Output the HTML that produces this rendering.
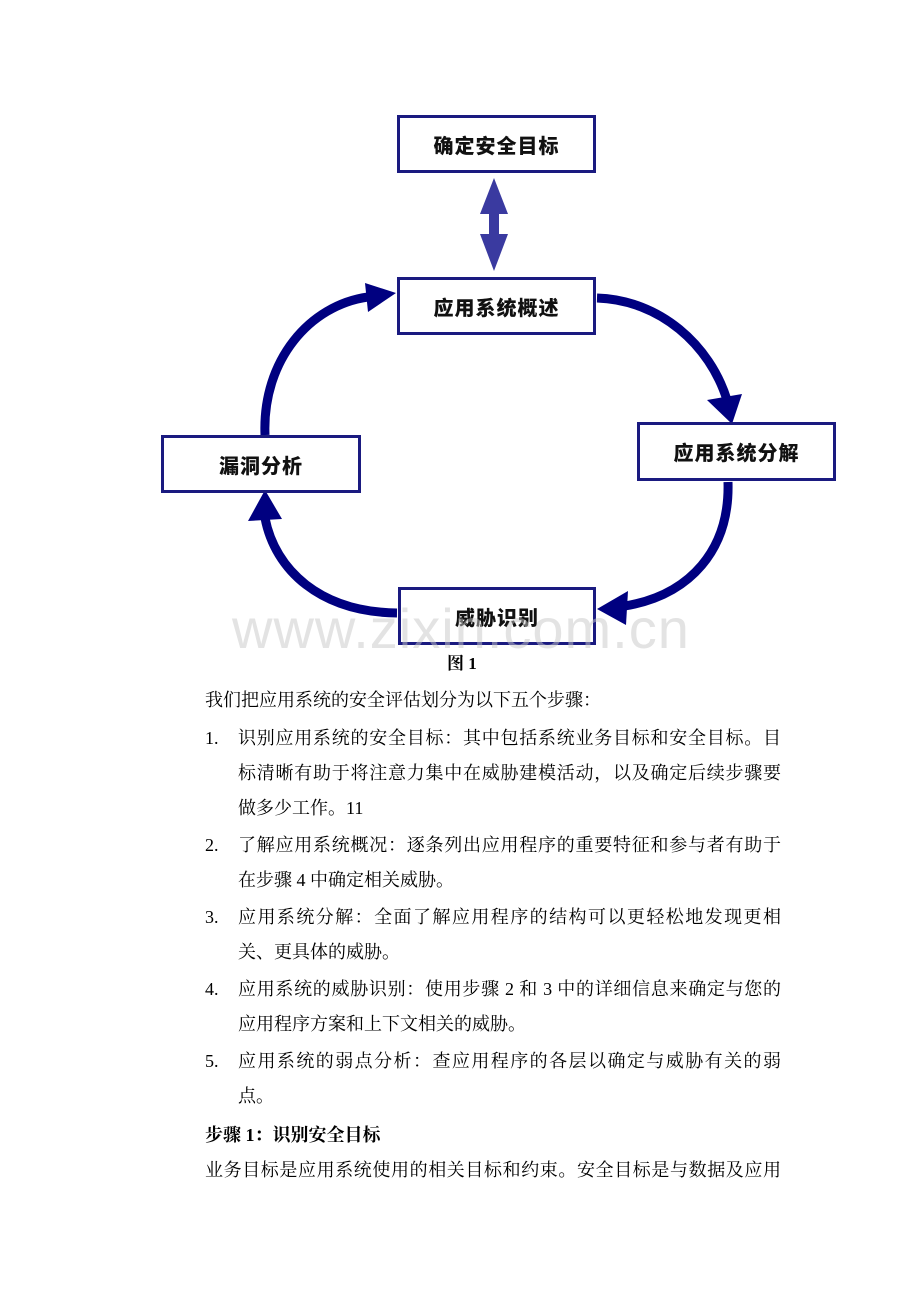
<!DOCTYPE html>
<html><head><meta charset="utf-8"><style>
body{margin:0;background:#fff;width:920px;height:1302px;position:relative;overflow:hidden;font-family:"Liberation Serif","Noto Serif CJK SC",serif;color:#000}
.l{position:absolute;font-size:18px;line-height:22px;white-space:nowrap}
.j{text-align:justify;text-align-last:justify;width:543px}
.n{position:absolute;font-size:18px;line-height:22px;left:205px}
.box{position:absolute;border:3px solid #1a1a80;box-sizing:border-box;background:#fff;font-family:"Noto Sans CJK SC",sans-serif;font-weight:900;font-size:20px;display:flex;align-items:center;justify-content:center;letter-spacing:1px;color:#111}
</style></head><body>
<svg width="920" height="700" style="position:absolute;left:0;top:0">
<g fill="none" stroke="#000080" stroke-width="9">
<path d="M597 298 C660 300 710 345 727 400"/>
<path d="M728 482 C730 550 690 595 625 606"/>
<path d="M397 613 C320 612 275 570 265 518"/>
<path d="M265 435 C262 360 310 305 368 297"/>
</g>
<g fill="#000080">
<polygon points="707,400 742,394 732,424"/>
<polygon points="628,591 626,625 597,609"/>
<polygon points="248,521 282,519 265,490"/>
<polygon points="365,283 368,312 396,293"/>
</g>
<polygon fill="#3a3aa0" points="494,178 480,214 489,214 489,234 480,234 494,271 508,234 499,234 499,214 508,214" />
</svg>
<div class="box" style="left:397px;top:115px;width:199px;height:58px">确定安全目标</div>
<div class="box" style="left:397px;top:277px;width:199px;height:58px">应用系统概述</div>
<div class="box" style="left:637px;top:422px;width:199px;height:59px">应用系统分解</div>
<div class="box" style="left:161px;top:435px;width:200px;height:58px">漏洞分析</div>
<div class="box" style="left:398px;top:587px;width:198px;height:58px">威胁识别</div>
<div style="position:absolute;left:232px;top:596px;font-family:'Liberation Sans',sans-serif;font-size:56px;color:rgba(200,200,200,0.5);letter-spacing:1px">www.zixin.com.cn</div>
<div class="l" style="left:447px;top:653px;font-weight:bold;font-size:17px">图 1</div>
<div class="l" style="left:205px;top:689px">我们把应用系统的安全评估划分为以下五个步骤：</div>
<div class="n" style="top:727px">1.</div><div class="l j" style="left:238px;top:727px">识别应用系统的安全目标：其中包括系统业务目标和安全目标。目</div>
<div class="l j" style="left:238px;top:762px">标清晰有助于将注意力集中在威胁建模活动，以及确定后续步骤要</div>
<div class="l" style="left:238px;top:797px">做多少工作。11</div>
<div class="n" style="top:834px">2.</div><div class="l j" style="left:238px;top:834px">了解应用系统概况：逐条列出应用程序的重要特征和参与者有助于</div>
<div class="l" style="left:238px;top:869px">在步骤 4 中确定相关威胁。</div>
<div class="n" style="top:906px">3.</div><div class="l j" style="left:238px;top:906px">应用系统分解：全面了解应用程序的结构可以更轻松地发现更相</div>
<div class="l" style="left:238px;top:941px">关、更具体的威胁。</div>
<div class="n" style="top:978px">4.</div><div class="l j" style="left:238px;top:978px">应用系统的威胁识别：使用步骤 2 和 3 中的详细信息来确定与您的</div>
<div class="l" style="left:238px;top:1013px">应用程序方案和上下文相关的威胁。</div>
<div class="n" style="top:1050px">5.</div><div class="l j" style="left:238px;top:1050px">应用系统的弱点分析：查应用程序的各层以确定与威胁有关的弱</div>
<div class="l" style="left:238px;top:1085px">点。</div>
<div class="l" style="left:205px;top:1124px;font-weight:bold">步骤 1：识别安全目标</div>
<div class="l j" style="left:205px;top:1159px;width:576px">业务目标是应用系统使用的相关目标和约束。安全目标是与数据及应用</div>
</body></html>
